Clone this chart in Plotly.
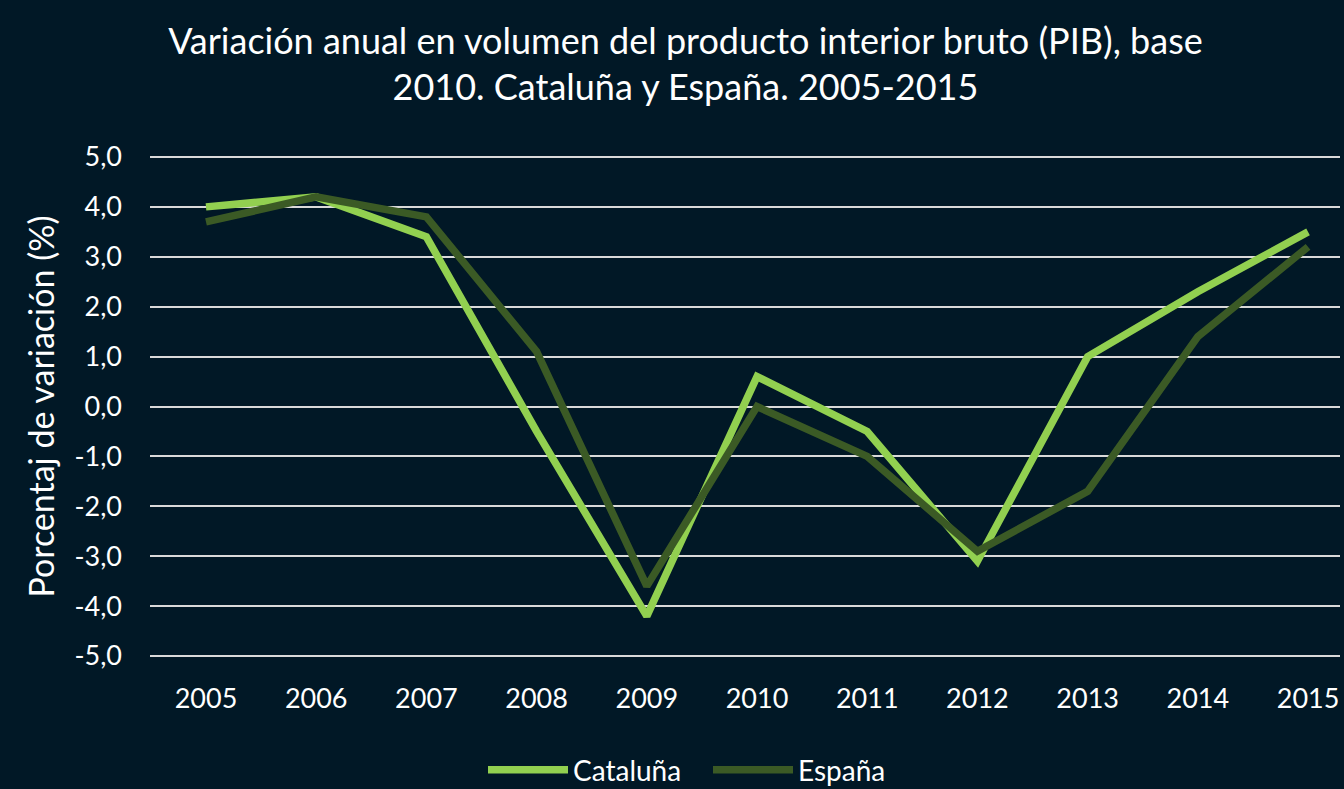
import plotly.graph_objects as go

years = ["2005", "2006", "2007", "2008", "2009", "2010", "2011", "2012", "2013", "2014", "2015"]
cataluna = [4.0, 4.2, 3.4, -0.5, -4.2, 0.6, -0.5, -3.1, 1.0, 2.3, 3.5]
espana = [3.7, 4.2, 3.8, 1.1, -3.6, 0.0, -1.0, -2.9, -1.7, 1.4, 3.2]
y_ticks = [5, 4, 3, 2, 1, 0, -1, -2, -3, -4, -5]
y_tick_labels = ["5,0", "4,0", "3,0", "2,0", "1,0", "0,0", "-1,0", "-2,0", "-3,0", "-4,0", "-5,0"]

BG = "#011826"
FONT = "Lato, 'Open Sans', sans-serif"

xpos = list(range(len(years)))

fig = go.Figure()
fig.add_trace(go.Scatter(x=xpos, y=cataluna, mode="lines", name="Cataluña",
                         line=dict(color="#92D050", width=7.5)))
fig.add_trace(go.Scatter(x=xpos, y=espana, mode="lines", name="España",
                         line=dict(color="#3B5A25", width=7.5)))

fig.update_layout(
    width=1344, height=789,
    paper_bgcolor=BG, plot_bgcolor=BG,
    font=dict(family=FONT, color="white", size=27),
    margin=dict(l=150, r=4, t=152, b=128),
    title=dict(text="Variación anual en volumen del producto interior bruto (PIB), base<br>2010. Cataluña y España. 2005-2015",
               x=0.51, xanchor="center", yref="container", y=0.932, yanchor="top",
               font=dict(size=36, color="white", family=FONT)),
    showlegend=True,
    legend=dict(orientation="h", x=483 / 1344, xanchor="left", xref="container",
                yref="container", y=0.024, yanchor="middle", valign="middle",
                itemwidth=80, entrywidth=130,
                font=dict(size=28, color="white"), bgcolor="rgba(0,0,0,0)"),
    xaxis=dict(tickmode="array", tickvals=xpos, ticktext=years,
               range=[-0.508, 10.29], showgrid=False, zeroline=False,
               showline=False, ticks="", ticklabelstandoff=19, automargin=False,
               tickfont=dict(size=27, color="white")),
    yaxis=dict(tickmode="array", tickvals=y_ticks, ticktext=y_tick_labels,
               range=[-5.1, 5.1], showgrid=True, gridcolor="#D9D9D9", gridwidth=2,
               zeroline=False, showline=False, ticks="", ticklabelstandoff=27,
               automargin=False,
               tickfont=dict(size=27, color="white"),
               title=dict(text="Porcentaj de variación (%)", standoff=9,
                          font=dict(size=34, color="white"))),
)

fig.write_html("out.html", config={"displayModeBar": False},
               post_script="document.body.style.margin='0';document.body.style.overflow='hidden';")
